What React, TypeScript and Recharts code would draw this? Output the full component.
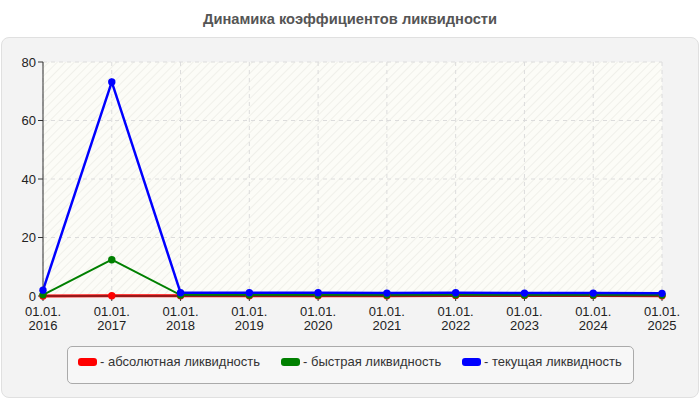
import { LineChart, Line, XAxis, YAxis, CartesianGrid } from 'recharts'

const years = ['2016', '2017', '2018', '2019', '2020', '2021', '2022', '2023', '2024', '2025']
const absolute = [0, 0.1, 0.05, 0.05, 0.05, 0.1, 0.2, 0.2, 0.2, 0.05]
const quick = [0.4, 12.4, 0.3, 0.3, 0.3, 0.3, 0.4, 0.3, 0.3, 0.3]
const current = [2.0, 73.2, 1.1, 1.1, 1.1, 1.0, 1.1, 1.0, 1.0, 0.9]
const yTicks = [0, 20, 40, 60, 80]

const series = [
  { key: 'absolute', name: '- абсолютная ликвидность', color: '#ff0000', width: 3 },
  { key: 'quick', name: '- быстрая ликвидность', color: '#008000', width: 2 },
  { key: 'current', name: '- текущая ликвидность', color: '#0000ff', width: 2.5 },
]

const data = years.map((y, i) => ({
  date: y,
  absolute: absolute[i],
  quick: quick[i],
  current: current[i],
}))

const font = 'Arial, "Liberation Sans", sans-serif'

// two-line date label: "01.01." over the year
const DateTick = (props: any) => {
  const { x, y, payload } = props
  return (
    <g>
      <text x={x} y={y + 13} textAnchor="middle" fontSize={13} fill="#222" fontFamily={font}>
        01.01.
      </text>
      <text x={x} y={y + 26.5} textAnchor="middle" fontSize={13} fill="#222" fontFamily={font}>
        {payload.value}
      </text>
    </g>
  )
}

const App = () => {
  return (
    <div style={{ position: 'absolute', left: 0, top: 0, width: 700, height: 400, background: '#fff', fontFamily: font }}>
      <svg width={0} height={0} style={{ position: 'absolute' }}>
        <defs>
          <pattern id="hatch" width={6} height={6} patternUnits="userSpaceOnUse" patternTransform="rotate(45)">
            <rect width={6} height={6} fill="#fcfcf7" />
            <line x1={0} y1={0} x2={0} y2={6} stroke="#f0f0ea" strokeWidth={2} />
          </pattern>
        </defs>
      </svg>
      <div style={{ position: 'absolute', left: 0, top: 11, width: 700, textAlign: 'center', fontSize: 14.7, fontWeight: 'bold', color: '#555' }}>
        Динамика коэффициентов ликвидности
      </div>
      <div
        style={{
          position: 'absolute',
          left: 1,
          top: 37,
          width: 696,
          height: 359,
          background: '#f3f3f3',
          border: '1px solid #e0e0e0',
          borderRadius: 8,
        }}
      />
      <div style={{ position: 'absolute', left: 0, top: 0 }}>
        <LineChart width={700} height={400} data={data} margin={{ top: 62, right: 38, left: 0, bottom: 64 }}>
          <CartesianGrid strokeDasharray="4 4" stroke="#dcdcdc" fill="url(#hatch)" />
          <XAxis
            dataKey="date"
            tick={<DateTick />}
            height={40}
            axisLine={{ stroke: '#333' }}
            tickLine={{ stroke: '#333' }}
            tickSize={5}
            interval={0}
          />
          <YAxis
            width={43}
            domain={[0, 80]}
            ticks={yTicks}
            axisLine={{ stroke: '#333' }}
            tickLine={{ stroke: '#333' }}
            tickSize={5}
            tick={{ fontSize: 13, fill: '#222', fontFamily: font }}
          />
          {series.map((s) => (
            <Line
              key={s.key}
              type="linear"
              dataKey={s.key}
              stroke={s.color}
              strokeWidth={s.width}
              dot={{ r: 3.7, fill: s.color, stroke: s.color, strokeWidth: 0 }}
              isAnimationActive={false}
            />
          ))}
        </LineChart>
      </div>
      <div
        style={{
          position: 'absolute',
          left: 67,
          top: 346,
          width: 565,
          height: 36,
          border: '1px solid #aaa',
          borderRadius: 5,
          background: '#f7f7f7',
        }}
      >
        {series.map((s, i) => (
          <div
            key={s.key}
            style={{
              position: 'absolute',
              left: [10, 213, 394][i],
              top: 7,
              display: 'flex',
              alignItems: 'center',
              fontSize: 13,
              color: '#333',
              whiteSpace: 'nowrap',
            }}
          >
            <span style={{ display: 'inline-block', width: 19, height: 8, background: s.color, borderRadius: 3, marginRight: 3 }} />
            {s.name}
          </div>
        ))}
      </div>
    </div>
  )
}

export default App
